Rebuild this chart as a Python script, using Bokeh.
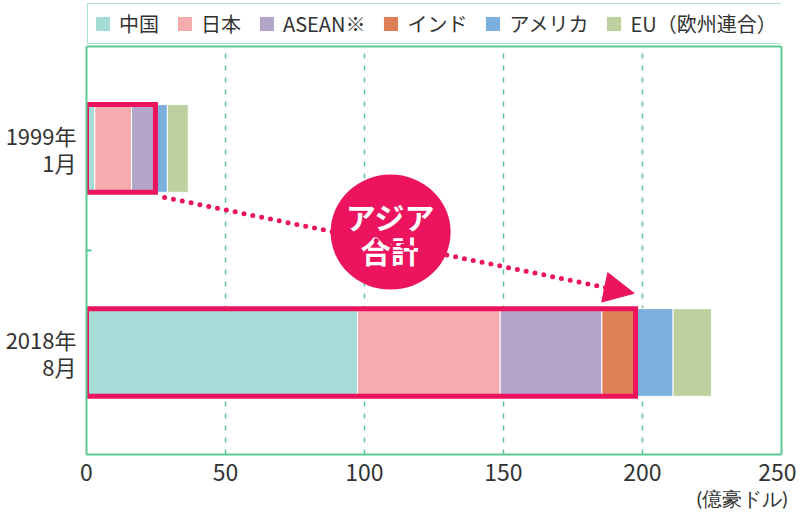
from bokeh.plotting import figure
from bokeh.models import (Range1d, FixedTicker, Legend, LegendItem, Arrow, NormalHead,
                          Title, Span, LinearAxis, ColumnDataSource)
from bokeh.core.properties import value
from bokeh.embed import file_html
from bokeh.resources import INLINE

# ---- data ----
periods = ["1999年\n1月", "2018年\n8月"]
series = ["中国", "日本", "ASEAN※", "インド", "アメリカ", "EU（欧州連合）"]
china = [3.0, 97.5]
japan = [13.2, 51.3]
asean = [8.1, 36.6]
india = [0.5, 12.1]
usa = [4.3, 13.5]
eu = [7.5, 13.8]
x_ticks = [0, 50, 100, 150, 200, 250]
unit_label = "(億豪ドル)"
badge_lines = ["アジア", "合計"]

# ---- styling ----
colors = ["#A6DBD8", "#F6ABAE", "#B4A6C8", "#DF7F57", "#7BAFDE", "#BDD19F"]
GREEN = "#5CC893"
RED = "#EC145F"
FONT = "Noto Sans CJK JP"
TXT = "#333333"
y_pos = [3, 1]          # row centres (1999 on top)
bar_h = 0.86
Y_TOP = 4               # top of plotting box
Y_VIEW = 4.431          # extra room above the box for the legend

keys = ["c", "j", "a", "i", "u", "e"]
src = ColumnDataSource(dict(y=y_pos, c=china, j=japan, a=asean, i=india, u=usa, e=eu))

p = figure(frame_width=695, frame_height=452, output_backend="svg", toolbar_location=None,
           x_range=Range1d(0, 250), y_range=Range1d(0, Y_VIEW),
           min_border_left=86, min_border_right=15, min_border_top=2, min_border_bottom=0)
p.background_fill_color = "white"
p.border_fill_color = "white"
p.outline_line_color = None

# frame box (top line + dashed grid)
p.segment(x0=x_ticks[1:-1], x1=x_ticks[1:-1], y0=0, y1=Y_TOP, line_color=GREEN,
          line_width=1.5, line_dash="5 7")
p.add_layout(Span(location=Y_TOP, dimension="width", line_color=GREEN, line_width=2))

renderers = p.hbar_stack(keys, y="y", height=bar_h, color=colors, line_color="white",
                         line_width=1, source=src)

# Asia total boxes
asia = [china[k] + japan[k] + asean[k] + india[k] for k in range(2)]
p.quad(left=[0, 0], right=asia, bottom=[y - bar_h / 2 for y in y_pos],
       top=[y + bar_h / 2 for y in y_pos], fill_color=None, line_color=RED, line_width=5,
       line_join="miter")

# arrow from 1999 box to 2018 box
arr = Arrow(x_start=asia[0] + 3.3, y_start=y_pos[0] - bar_h / 2 - 0.05,
            x_end=asia[1] - 0.5, y_end=y_pos[1] + bar_h / 2 + 0.15,
            line_color=RED, line_width=5, line_dash="0 9", line_cap="round",
            end=NormalHead(size=30, fill_color=RED, line_color=RED, line_width=1))
p.add_layout(arr)

# badge
bx, by = 109.4, 2.18
p.ellipse(x=[bx], y=[by], width=120, height=115, width_units="screen", height_units="screen",
          fill_color=RED, line_color=None)
p.text(x=[bx, bx], y=[by + 0.16, by - 0.18], text=badge_lines, text_align="center",
       text_baseline="middle", text_color="white", text_font=value(FONT),
       text_font_size="30px", text_font_style="bold")

# axes
p.xaxis.ticker = FixedTicker(ticks=x_ticks)
p.xaxis.axis_line_color = GREEN
p.xaxis.axis_line_width = 2
p.xaxis.major_tick_line_color = None
p.xaxis.minor_tick_line_color = None
p.xaxis.major_label_standoff = 3
p.xaxis.major_label_text_font = FONT
p.xaxis.major_label_text_font_size = "23px"
p.xaxis.major_label_text_color = TXT

p.yaxis.ticker = FixedTicker(ticks=y_pos, minor_ticks=[2])
p.yaxis.bounds = (0, Y_TOP)
p.yaxis.major_label_overrides = {y_pos[k]: periods[k] for k in range(2)}
p.yaxis.axis_line_color = GREEN
p.yaxis.axis_line_width = 2
p.yaxis.major_tick_line_color = None
p.yaxis.minor_tick_line_color = GREEN
p.yaxis.minor_tick_line_width = 2
p.yaxis.minor_tick_in = 5
p.yaxis.minor_tick_out = 0
p.yaxis.major_label_standoff = 4
p.yaxis.major_label_text_font = FONT
p.yaxis.major_label_text_font_size = "22px"
p.yaxis.major_label_text_color = TXT
p.yaxis.major_label_text_line_height = 0.85

right_axis = LinearAxis(ticker=FixedTicker(ticks=[]), bounds=(0, Y_TOP),
                        axis_line_color=GREEN, axis_line_width=2,
                        major_tick_line_color=None, minor_tick_line_color=None,
                        major_label_text_font_size="0px", major_label_standoff=0)
p.add_layout(right_axis, "right")

p.xgrid.grid_line_color = None
p.ygrid.grid_line_color = None

# unit label
p.add_layout(Title(text=unit_label, align="right", offset=-6, text_font="Lato",
                   text_font_size="20px", text_color=TXT, text_font_style="normal",
                   standoff=0), "below")

# legend
legend = Legend(items=[LegendItem(label=series[k], renderers=[renderers[k]]) for k in range(6)],
                orientation="horizontal", location="top_left")
legend.border_line_color = GREEN
legend.border_line_width = 1.5
legend.background_fill_color = "white"
legend.background_fill_alpha = 1
legend.label_text_font = FONT
legend.label_text_font_size = "20px"
legend.label_text_color = TXT
legend.glyph_width = 19
legend.glyph_height = 19
legend.label_standoff = 7
legend.spacing = 16
legend.padding = 5
legend.margin = 1
legend.label_height = 20
p.add_layout(legend)

open("out.html", "w").write(file_html(p, INLINE))
